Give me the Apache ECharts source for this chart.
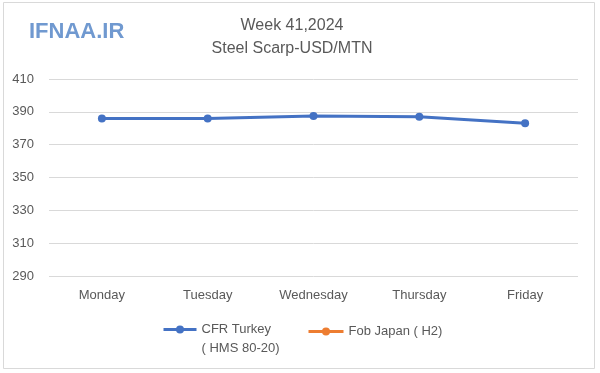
<!DOCTYPE html>
<html>
<head>
<meta charset="utf-8">
<script src="https://cdn.jsdelivr.net/npm/echarts@6/dist/echarts.min.js"></script>
<style>
html,body{margin:0;padding:0;background:#fff;}
#chart{width:600px;height:373px;}
</style>
</head>
<body>
<div id="chart"></div>
<script>
var categories = ['Monday', 'Tuesday', 'Wednesday', 'Thursday', 'Friday'];
var cfrTurkey = [386, 386, 387.5, 387, 383];
var fobJapan = [null, null, null, null, null];
var yTicks = [290, 310, 330, 350, 370, 390, 410];
var seriesNames = ['CFR Turkey\n( HMS 80-20)', 'Fob Japan ( H2)'];
var titleLines = ['Week 41,2024', 'Steel Scarp-USD/MTN'];
var watermark = 'IFNAA.IR';

var chart = echarts.init(document.getElementById('chart'));
var font = "'Liberation Sans', Arial, sans-serif";
var option = {
  animation: false,
  backgroundColor: '#ffffff',
  title: {
    text: titleLines.join('\n'),
    left: 287,
    textAlign: 'center',
    top: 9,
    textStyle: { fontFamily: font, fontSize: 16, fontWeight: 'normal', color: '#595959', lineHeight: 23 }
  },
  graphic: [
    { type: 'rect', shape: { x: 3.5, y: 2.5, width: 591, height: 366 }, style: { fill: 'none', stroke: '#d9d9d9', lineWidth: 1 }, silent: true },
    { type: 'text', left: 29, top: 21, style: { text: watermark, font: "bold 22px 'Liberation Sans', Arial, sans-serif", fill: '#7099d0', shadowColor: 'rgba(60,80,120,0.5)', shadowBlur: 3, shadowOffsetX: 1, shadowOffsetY: 2 } }
  ],
  legend: [
    {
      data: [seriesNames[0]],
      formatter: function (n) { return '\n' + n; },
      left: 157, top: 296,
      itemWidth: 33, itemHeight: 10, itemGap: 5,
      lineStyle: { width: 3 },
      textStyle: { fontFamily: font, fontSize: 13, color: '#595959', lineHeight: 19 }
    },
    {
      data: [seriesNames[1]],
      left: 302, top: 320,
      itemWidth: 35, itemHeight: 10,
      lineStyle: { width: 3 },
      textStyle: { fontFamily: font, fontSize: 13, color: '#595959' }
    }
  ],
  grid: { left: 49, right: 22, top: 79, bottom: 97 },
  xAxis: {
    type: 'category',
    data: categories,
    boundaryGap: true,
    axisLine: { show: false },
    axisTick: { show: false },
    axisLabel: { fontFamily: font, fontSize: 13, color: '#595959', margin: 13 }
  },
  yAxis: {
    type: 'value',
    min: yTicks[0],
    max: yTicks[yTicks.length - 1],
    interval: 20,
    axisLine: { show: false },
    axisTick: { show: false },
    axisLabel: { fontFamily: font, fontSize: 13, color: '#595959', margin: 15 },
    splitLine: { lineStyle: { color: '#d9d9d9', width: 1 } }
  },
  series: [
    {
      name: seriesNames[0],
      type: 'line',
      data: cfrTurkey,
      color: '#4472c4',
      lineStyle: { width: 3, color: '#4472c4' },
      symbol: 'circle',
      symbolSize: 8,
      itemStyle: { color: '#4472c4' }
    },
    {
      name: seriesNames[1],
      type: 'line',
      data: fobJapan,
      color: '#ed7d31',
      lineStyle: { width: 3, color: '#ed7d31' },
      symbol: 'circle',
      symbolSize: 8,
      itemStyle: { color: '#ed7d31' }
    }
  ]
};
chart.setOption(option);
</script>
</body>
</html>
